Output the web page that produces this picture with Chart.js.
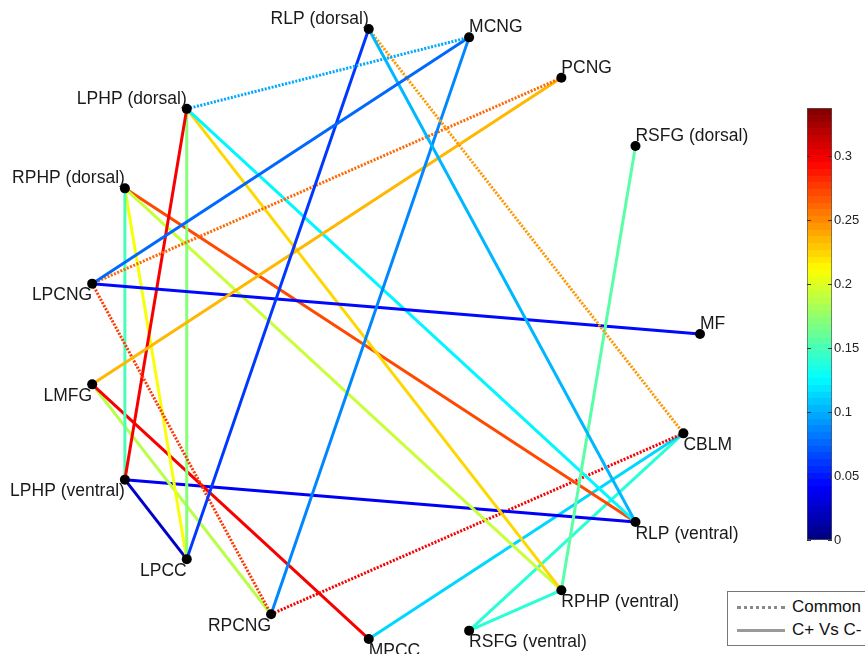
<!DOCTYPE html>
<html lang="en">
<head>
<meta charset="UTF-8">
<title>Connectivity graph</title>
<script src="https://cdn.jsdelivr.net/npm/chart.js"></script>
<style>
  body { margin: 0; background: #fff; overflow: hidden; }
  #wrap { position: relative; width: 865px; height: 654px; overflow: hidden; font-family: "Liberation Sans", Arial, sans-serif; }
  #graph { position: absolute; left: 0; top: 0; }
  #cbar { position: absolute; left: 790px; top: 95px; }
  .legend { position: absolute; left: 727px; top: 591px; width: 170px; height: 53px; border: 1px solid #777; background: #fff; }
  .legend .row { position: absolute; left: 9px; height: 20px; display: flex; align-items: center; font-size: 17px; color: #111; white-space: nowrap; }
  .legend .sample { width: 48px; margin-right: 7px; }
</style>
</head>
<body>
<div id="wrap">
  <canvas id="graph" width="865" height="654"></canvas>
  <canvas id="cbar" width="75" height="465"></canvas>
  <div class="legend">
    <div class="row" style="top:5px"><span class="sample" style="border-top:3px dotted #8a8a8a"></span>Common</div>
    <div class="row" style="top:28px"><span class="sample" style="border-top:3px solid #9a9a9a"></span>C+ Vs C-</div>
  </div>
</div>
<script>
// nodes sit on a circle of 19 slots (two left empty), slot 0 = MF on the right
const nodeNames = ['MF', 'CBLM', 'RLP (ventral)', 'RPHP (ventral)', 'RSFG (ventral)', 'MPCC', 'RPCNG', 'LPCC',
  'LPHP (ventral)', 'LMFG', 'LPCNG', 'RPHP (dorsal)', 'LPHP (dorsal)', 'RLP (dorsal)', 'MCNG', 'PCNG', 'RSFG (dorsal)'];
const nodeSlots = [0, 1, 2, 3, 4, 5, 6, 7, 8, 9, 10, 11, 12, 14, 15, 16, 17];
const slotCount = 19;

const edgeFrom = ['LPHP (dorsal)', 'LPCNG', 'RLP (dorsal)', 'RLP (dorsal)', 'RLP (dorsal)', 'MCNG', 'PCNG', 'PCNG',
  'RSFG (dorsal)', 'LPCNG', 'LPCNG', 'LPHP (dorsal)', 'LPHP (dorsal)', 'LPHP (dorsal)', 'LPHP (dorsal)',
  'RPHP (dorsal)', 'RPHP (dorsal)', 'RPHP (dorsal)', 'RPHP (dorsal)', 'LMFG', 'LMFG', 'LPHP (ventral)',
  'LPHP (ventral)', 'RPCNG', 'MPCC', 'RSFG (ventral)', 'RSFG (ventral)'];
const edgeTo = ['MCNG', 'MCNG', 'LPCC', 'RLP (ventral)', 'CBLM', 'RPCNG', 'LPCNG', 'LMFG',
  'RPHP (ventral)', 'MF', 'RPCNG', 'LPHP (ventral)', 'LPCC', 'RLP (ventral)', 'RPHP (ventral)',
  'LPHP (ventral)', 'LPCC', 'RPHP (ventral)', 'RLP (ventral)', 'MPCC', 'RPCNG', 'LPCC',
  'RLP (ventral)', 'CBLM', 'CBLM', 'CBLM', 'RPHP (ventral)'];
const edgeValue = [0.10, 0.075, 0.06, 0.105, 0.245, 0.085, 0.26, 0.235,
  0.155, 0.045, 0.275, 0.30, 0.17, 0.125, 0.225,
  0.15, 0.21, 0.195, 0.27, 0.30, 0.185, 0.025,
  0.04, 0.30, 0.115, 0.14, 0.14];
const edgeCommon = [true, false, false, false, true, false, true, false,
  false, false, true, false, false, false, false,
  false, false, false, false, false, false, false,
  false, true, false, false, false];

const colorMax = 0.3375;
const colorTicks = [0, 0.05, 0.1, 0.15, 0.2, 0.25, 0.3];

// label placement
const labelAbove = ['MF', 'RSFG (dorsal)', 'PCNG', 'MCNG', 'RLP (dorsal)', 'LPHP (dorsal)', 'RPHP (dorsal)'];
const labelStartAtNode = ['MF', 'CBLM', 'RLP (ventral)', 'RPHP (ventral)', 'RSFG (ventral)', 'MPCC', 'RSFG (dorsal)', 'PCNG', 'MCNG'];

function jet(t) {
  const c = v => Math.round(255 * Math.max(0, Math.min(1, v)));
  const r = Math.min(4 * t - 1.5, -4 * t + 4.5);
  const g = Math.min(4 * t - 0.5, -4 * t + 3.5);
  const b = Math.min(4 * t + 0.5, -4 * t + 2.5);
  return `rgb(${c(r)},${c(g)},${c(b)})`;
}
function valueColor(v) {
  const idx = Math.max(0, Math.min(63, Math.floor(v / colorMax * 64)));
  return jet((idx + 0.5) / 64);
}
function nodePos(name) {
  const slot = nodeSlots[nodeNames.indexOf(name)];
  const ang = slot * 2 * Math.PI / slotCount;
  return { x: Math.cos(ang), y: -Math.sin(ang) };
}

const edgeSets = edgeFrom.map((from, i) => ({
  data: [nodePos(from), nodePos(edgeTo[i])],
  showLine: true,
  borderColor: valueColor(edgeValue[i]),
  borderWidth: 3,
  borderDash: edgeCommon[i] ? [2, 1.5] : [],
  pointRadius: 0,
  clip: false,
  order: 1
}));

const nodeSet = {
  data: nodeNames.map(nodePos),
  pointRadius: 5,
  pointBackgroundColor: '#000',
  pointBorderWidth: 0,
  clip: false,
  order: 0
};

const nodeLabels = {
  id: 'nodeLabels',
  afterDatasetsDraw(chart) {
    const { ctx, scales: { x, y } } = chart;
    ctx.save();
    ctx.font = '17.5px "Liberation Sans", Arial, sans-serif';
    ctx.fillStyle = '#1a1a1a';
    ctx.textBaseline = 'middle';
    nodeNames.forEach(name => {
      const p = nodePos(name);
      const px = x.getPixelForValue(p.x);
      const py = y.getPixelForValue(p.y);
      ctx.textAlign = labelStartAtNode.includes(name) ? 'left' : 'right';
      ctx.fillText(name, px, py + (labelAbove.includes(name) ? -10 : 12));
    });
    ctx.restore();
  }
};

new Chart(document.getElementById('graph'), {
  type: 'scatter',
  data: { datasets: [nodeSet, ...edgeSets] },
  options: {
    responsive: false,
    animation: false,
    events: [],
    layout: { padding: { left: 88, top: 28, right: 165, bottom: 14 } },
    scales: {
      x: { type: 'linear', min: -1, max: 1, display: false },
      y: { type: 'linear', min: -1, max: 1, display: false }
    },
    plugins: { legend: { display: false }, tooltip: { enabled: false } }
  },
  plugins: [nodeLabels]
});

// colour bar
const cbarTicks = {
  id: 'cbarTicks',
  afterDraw(chart) {
    const { ctx, chartArea: a, scales: { y } } = chart;
    ctx.save();
    ctx.strokeStyle = '#333';
    ctx.lineWidth = 1;
    colorTicks.forEach(v => {
      const py = Math.round(y.getPixelForValue(v)) + 0.5;
      ctx.beginPath();
      ctx.moveTo(a.left, py); ctx.lineTo(a.left + 4, py);
      ctx.moveTo(a.right - 4, py); ctx.lineTo(a.right, py);
      ctx.stroke();
    });
    ctx.restore();
  }
};

new Chart(document.getElementById('cbar'), {
  type: 'bar',
  data: {
    labels: [''],
    datasets: [{
      data: [colorMax],
      barPercentage: 1,
      categoryPercentage: 1,
      borderWidth: 1,
      borderColor: '#555',
      borderSkipped: false,
      backgroundColor: c => {
        const a = c.chart.chartArea;
        if (!a) return '#000';
        const g = c.chart.ctx.createLinearGradient(0, a.bottom, 0, a.top);
        for (let i = 0; i < 64; i++) {
          const col = jet((i + 0.5) / 64);
          g.addColorStop(i / 64, col);
          g.addColorStop((i + 1) / 64, col);
        }
        return g;
      }
    }]
  },
  options: {
    responsive: false,
    animation: false,
    events: [],
    layout: { padding: { left: 17, top: 13, right: 0, bottom: 20 } },
    scales: {
      x: { display: false },
      y: {
        position: 'right',
        min: 0,
        max: colorMax,
        grid: { display: false, drawTicks: false },
        border: { display: false },
        afterFit: s => { s.width = 33; },
        ticks: {
          stepSize: 0.05,
          includeBounds: false,
          padding: 2,
          color: '#222',
          font: { family: '"Liberation Sans", Arial, sans-serif', size: 13 },
          callback: v => String(+v.toFixed(2))
        }
      }
    },
    plugins: { legend: { display: false }, tooltip: { enabled: false } }
  },
  plugins: [cbarTicks]
});
</script>
</body>
</html>
